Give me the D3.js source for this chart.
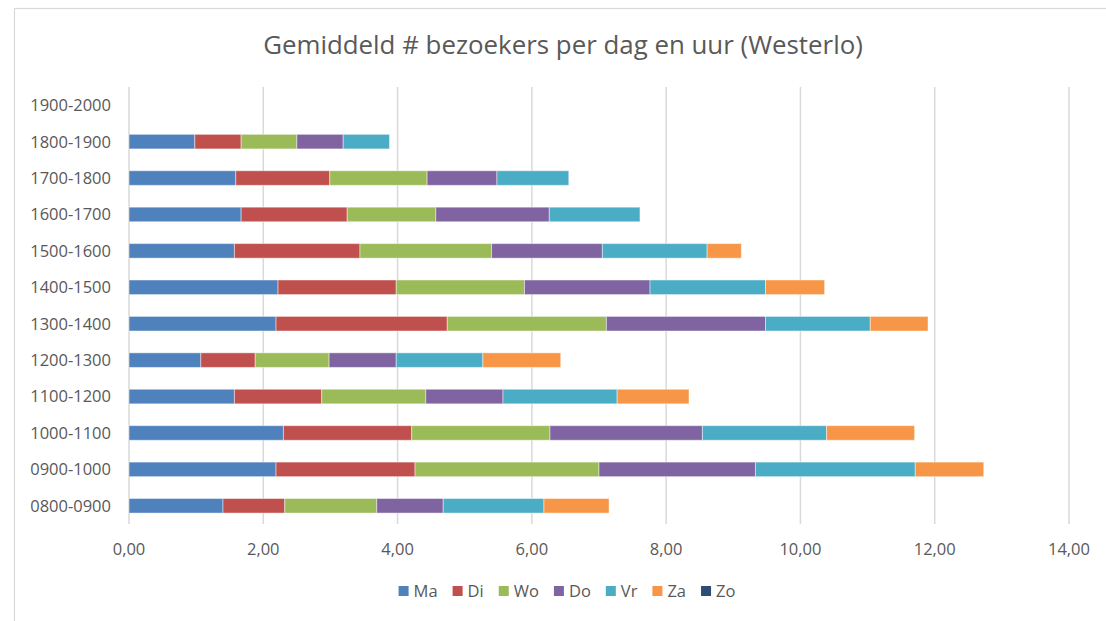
<!DOCTYPE html>
<html>
<head>
<meta charset="utf-8">
<script src="https://cdn.jsdelivr.net/npm/d3@7"></script>
<style>
  body { margin: 0; background: #fff; }
  svg { display: block; font-family: "Open Sans", sans-serif; }
</style>
</head>
<body>
<svg width="1106" height="621"></svg>
<script>
// categories listed bottom to top, as they appear in the chart
var categories = [
  "0800-0900", "0900-1000", "1000-1100", "1100-1200", "1200-1300", "1300-1400",
  "1400-1500", "1500-1600", "1600-1700", "1700-1800", "1800-1900", "1900-2000",
];

var seriesNames = ["Ma", "Di", "Wo", "Do", "Vr", "Za", "Zo"];
var seriesColors = ["#4F81BD", "#C0504D", "#9BBB59", "#8064A2", "#4BACC6", "#F79646", "#2C4D75"];

var valuesMa = [1.40, 2.19, 2.30, 1.57, 1.07, 2.19, 2.22, 1.57, 1.67, 1.59, 0.98, 0];
var valuesDi = [0.92, 2.07, 1.91, 1.30, 0.81, 2.55, 1.76, 1.87, 1.58, 1.40, 0.69, 0];
var valuesWo = [1.37, 2.74, 2.06, 1.55, 1.10, 2.37, 1.91, 1.96, 1.32, 1.45, 0.83, 0];
var valuesDo = [0.99, 2.33, 2.27, 1.15, 1.00, 2.37, 1.87, 1.65, 1.69, 1.04, 0.69, 0];
var valuesVr = [1.50, 2.38, 1.85, 1.70, 1.29, 1.56, 1.72, 1.56, 1.35, 1.07, 0.69, 0];
var valuesZa = [0.97, 1.02, 1.31, 1.07, 1.16, 0.86, 0.88, 0.51, 0, 0, 0, 0];
var valuesZo = [0, 0, 0, 0, 0, 0, 0, 0, 0, 0, 0, 0];

var xTicks = [0, 2, 4, 6, 8, 10, 12, 14];
var titleText = "Gemiddeld # bezoekers per dag en uur (Westerlo)";

var allValues = [valuesMa, valuesDi, valuesWo, valuesDo, valuesVr, valuesZa, valuesZo];
var table = categories.map((c, i) => {
  var row = { cat: c };
  seriesNames.forEach((s, j) => (row[s] = allValues[j][i]));
  return row;
});

const svg = d3.select("svg");
const textColor = "#595959";
const gridColor = "#d9d9d9";

// chart area border
svg.append("rect")
  .attr("x", 14.5).attr("y", 8.5)
  .attr("width", 1200).attr("height", 700)
  .attr("fill", "none")
  .attr("stroke", gridColor)
  .attr("stroke-width", 1.2);

var x = d3.scaleLinear().domain([0, 14]).range([129, 1069]);
var y = d3.scaleBand()
  .domain(categories.slice().reverse())
  .range([87, 524])
  .paddingInner(0.6)
  .paddingOuter(0.3);

// gridlines
svg.append("g")
  .selectAll("line")
  .data(xTicks)
  .enter()
  .append("line")
  .attr("x1", (d) => x(d)).attr("x2", (d) => x(d))
  .attr("y1", 87).attr("y2", 524)
  .attr("stroke", gridColor)
  .attr("stroke-width", 1.5);

// x tick labels
svg.append("g")
  .selectAll("text")
  .data(xTicks)
  .enter()
  .append("text")
  .attr("x", (d) => x(d))
  .attr("y", 555)
  .attr("text-anchor", "middle")
  .attr("font-size", 16.5)
  .attr("fill", textColor)
  .text((d) => d3.format(".2f")(d).replace(".", ","));

// category labels
svg.append("g")
  .selectAll("text")
  .data(categories)
  .enter()
  .append("text")
  .attr("x", 111)
  .attr("y", (d) => y(d) + y.bandwidth() / 2)
  .attr("dy", "0.36em")
  .attr("text-anchor", "end")
  .attr("font-size", 16.5)
  .attr("fill", textColor)
  .text((d) => d);

// stacked bars
var stacked = d3.stack().keys(seriesNames)(table);

var color = d3.scaleOrdinal().domain(seriesNames).range(seriesColors);

svg.append("g")
  .selectAll("g")
  .data(stacked)
  .enter()
  .append("g")
  .attr("fill", (d) => color(d.key))
  .selectAll("rect")
  .data((d) => d.filter((p) => p[1] - p[0] > 0))
  .enter()
  .append("rect")
  .attr("x", (d) => x(d[0]))
  .attr("y", (d) => y(d.data.cat))
  .attr("width", (d) => x(d[1]) - x(d[0]))
  .attr("height", y.bandwidth())
  .attr("stroke", "#fff")
  .attr("stroke-opacity", 0.45)
  .attr("stroke-width", 1);

// title, fitted to its width in the original
var title = svg.append("text")
  .attr("x", 563)
  .attr("y", 54)
  .attr("text-anchor", "middle")
  .attr("font-size", 24)
  .attr("fill", textColor)
  .text(titleText);
var tw = title.node().getComputedTextLength();
title.attr("font-size", 24 * 600 / tw);

// legend
var legend = svg.append("g");
var items = legend.selectAll("g")
  .data(seriesNames)
  .enter()
  .append("g");
items.append("rect")
  .attr("width", 10).attr("height", 10)
  .attr("y", 586)
  .attr("fill", (d) => color(d));
items.append("text")
  .attr("x", 15)
  .attr("y", 591)
  .attr("dy", "0.36em")
  .attr("font-size", 16.5)
  .attr("fill", textColor)
  .text((d) => d);

var pos = 0;
var starts = [];
items.each(function () {
  starts.push(pos);
  pos += 15 + this.querySelector("text").getComputedTextLength() + 15;
});
var total = pos - 15;
var left = 567 - total / 2;
items.attr("transform", (d, i) => `translate(${left + starts[i]},0)`);
</script>
</body>
</html>
